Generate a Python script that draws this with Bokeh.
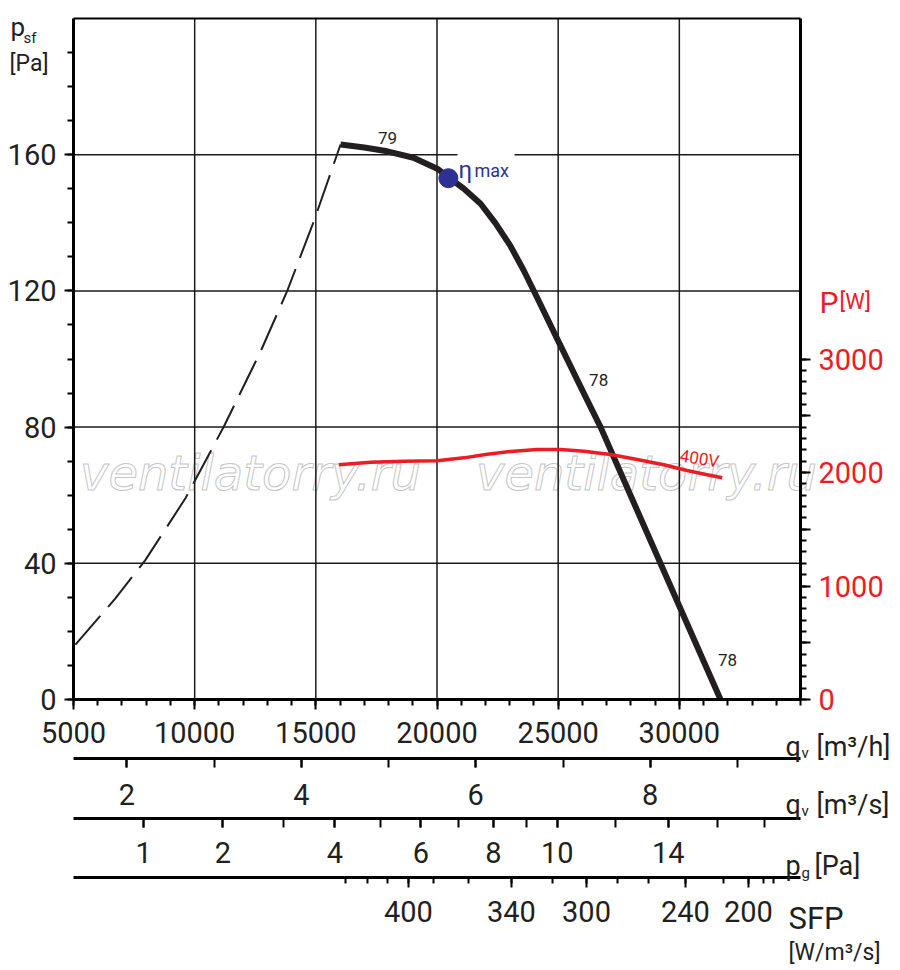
from bokeh.core.properties import value
from bokeh.embed import file_html
from bokeh.models import BoxAnnotation, ColumnDataSource, FixedTicker, Label, LinearAxis, Range1d
from bokeh.plotting import figure
from bokeh.resources import INLINE

# fan curve p_sf [Pa] over q_v [m3/h], solid part
curve_q = [16020, 17000, 17945, 19030, 20010, 20470, 21110, 21800, 22410, 23030, 23580,
           24135, 24960, 26060, 26750, 29220, 31700]
curve_p = [163, 162.1, 161, 159.1, 155.9, 153.4, 150, 145.6, 139.9, 133.2, 126,
           118, 105.9, 89.9, 80, 40, 0]

# unstable part (dashed)
stall_q = [5080, 6730, 7970, 9620, 11200, 12720, 13820, 14920, 16020]
stall_p = [16.1, 29.7, 41.0, 59.1, 80.1, 102.2, 120, 140.5, 163]

# input power P [W], 400V
power_q = [15950, 17260, 18630, 20010, 21110, 22070, 23170, 24130, 25100, 26060,
           27160, 28260, 29360, 30320, 31150, 31770]
power_w = [2068, 2091, 2100, 2103, 2129, 2161, 2188, 2203, 2203, 2188,
           2158, 2114, 2068, 2017, 1980, 1953]

# efficiency marks on the curve
eff_q = [17960, 26670, 31990]
eff_p = [165, 93.7, 11.5]
eff_txt = ["79", "78", "78"]

# best efficiency point
eta_q = [20470]
eta_p = [153.1]

# main scales
q_major = [5000, 10000, 15000, 20000, 25000, 30000]
q_minor = list(range(5000, 35001, 1000))
p_major = [0, 40, 80, 120, 160]
p_minor = list(range(0, 200, 10))
w_major = [0, 500, 1000, 1500, 2000, 2500, 3000]
w_minor = list(range(0, 3001, 100))
w_labels = [0, 1000, 2000, 3000]

# secondary scales under the chart
qs_ticks = [2, 3, 4, 5, 6, 7, 8, 9]          # q_v [m3/s]
qs_labels = [2, 4, 6, 8]
pg_ticks = [1, 2, 3, 4, 5, 6, 7, 8, 9, 10, 12, 14, 16, 18]   # p_g [Pa]
pg_labels = [1, 2, 4, 6, 8, 10, 14]
PG_Q1 = 7895                                  # m3/h where p_g = 1 Pa
sfp_ticks = [460, 440, 420, 400, 380, 360, 340, 320, 300, 280, 260, 240, 220, 200, 190, 180]
sfp_at_q = [16220, 17130, 17960, 18820, 19860, 21300, 23070, 24770, 26170, 27450,
            28730, 30250, 31820, 32850, 33470, 33890]
sfp_labels = [400, 340, 300, 240, 200]

INK = "#231f20"
RED = "#ed1c24"
BLUE = "#2e3192"
FONT = "Roboto"
TICK_FONT = "29px"

# page layout: where 5000..35000 m3/h and 0..200 Pa sit on the canvas
W, H = 900, 966
PX_Q0, PX_Q1 = 73, 800
PX_P0, PX_P1 = 699, 18
QX = 30000 / (PX_Q1 - PX_Q0)
PY = 200 / (PX_P0 - PX_P1)


def at(x, y):
    return 5000 + (x - PX_Q0) * QX, (PX_P0 - y) * PY


x_lo, y_hi = at(0, 0)
x_hi, y_lo = at(W, H)

p = figure(width=W, height=H, x_range=Range1d(x_lo, x_hi), y_range=Range1d(y_lo, y_hi),
           x_axis_type=None, y_axis_type=None, output_backend="svg", toolbar_location=None,
           min_border=0)
p.extra_y_ranges = {"power": Range1d(y_lo * 30, y_hi * 30)}
p.extra_x_ranges = {"qs": Range1d(x_lo / 3600, x_hi / 3600)}
p.outline_line_color = None
p.background_fill_color = "white"
p.border_fill_color = "white"


def axis(side, loc, bounds, ticker, tick_out, minor_out, standoff, color=INK, width=3, **kw):
    ax = LinearAxis(fixed_location=loc, bounds=bounds, ticker=ticker, **kw)
    ax.axis_line_width = width
    ax.axis_line_color = "black"
    ax.major_tick_line_width = 2
    ax.minor_tick_line_width = 2
    ax.major_tick_line_color = "black"
    ax.minor_tick_line_color = "black"
    ax.major_tick_in = 0
    ax.minor_tick_in = 0
    ax.major_tick_out = tick_out
    ax.minor_tick_out = minor_out
    ax.major_label_standoff = standoff
    ax.major_label_text_font = FONT
    ax.major_label_text_font_size = TICK_FONT
    ax.major_label_text_color = color
    p.add_layout(ax, side)
    return ax


# watermark
for cx in (250, 646):
    wx, wy = at(cx, 500)
    p.add_layout(Label(x=wx, y=wy, text="ventilatorry.ru", text_font="DejaVu Sans",
                       text_font_style="italic", text_font_size="48px", text_align="center",
                       text_color="white", text_outline_color="#c6c6c6", level="underlay"))

# grid
p.segment(x0=q_major[1:], y0=0, x1=q_major[1:], y1=200, line_color="#1a1a1a", line_width=1.5)
p.segment(x0=5000, y0=p_major[1:], x1=35000, y1=p_major[1:], line_color="#1a1a1a", line_width=1.5)

# frame axes
axis("left", 5000, (0, 200), FixedTicker(ticks=p_major, minor_ticks=p_minor), 9, 6, 8)
axis("below", 0, (5000, 35000), FixedTicker(ticks=q_major, minor_ticks=q_minor), 10, 6, 12)
axis("above", 200, (5000, 35000), FixedTicker(ticks=[]), 0, 0, 0, width=2,
     major_label_text_font_size="0px")
axis("right", 35000, (0, 6000), FixedTicker(ticks=w_major, minor_ticks=w_minor), 10, 6, 8, RED,
     y_range_name="power", major_label_overrides={v: "" for v in w_major if v not in w_labels})

# q_v [m3/s]
axis("below", at(0, 758)[1], (5000 / 3600, 35000 / 3600),
     FixedTicker(ticks=qs_labels, minor_ticks=qs_ticks), 9, 9, 16, x_range_name="qs")

# p_g [Pa]
pg_q = {v: round(PG_Q1 * v ** 0.5, 1) for v in pg_ticks}
axis("below", at(0, 818)[1], (5000, 35000),
     FixedTicker(ticks=[pg_q[v] for v in pg_labels], minor_ticks=list(pg_q.values())), 9, 9, 14,
     major_label_overrides={pg_q[v]: str(v) for v in pg_labels})

# SFP [W/m3/s]
sfp_q = dict(zip(sfp_ticks, sfp_at_q))
axis("below", at(0, 877)[1], (5000, 35000),
     FixedTicker(ticks=[sfp_q[v] for v in sfp_labels], minor_ticks=sfp_at_q), 10, 6, 13,
     major_label_overrides={sfp_q[v]: str(v) for v in sfp_labels})

p.line(stall_q, stall_p, line_width=2, line_dash="38 12", color=INK)
p.line(curve_q, curve_p, line_width=6, color=INK, line_join="round")
p.line(power_q, power_w, y_range_name="power", line_width=3.5, color=RED, line_join="round")
p.scatter(eta_q, eta_p, size=19, color=BLUE)
p.text(x="q", y="p", text="t", source=ColumnDataSource(dict(q=eff_q, p=eff_p, t=eff_txt)),
       text_font=value(FONT), text_font_size="17px", text_align="center",
       text_baseline="middle", text_color=INK)

# gap in the 160 grid line behind the eta label
gl, gt = at(457, 149)
gr, gb = at(514, 159)
p.add_layout(BoxAnnotation(left=gl, right=gr, top=gt, bottom=gb, fill_color="white",
                           fill_alpha=1, line_alpha=0))


def note(x, y, text, size, color=INK, **kw):
    nx, ny = at(x, y)
    p.add_layout(Label(x=nx, y=ny, text=text, text_font=FONT, text_font_size=f"{size}px",
                       text_color=color, text_align=kw.pop("align", "left"),
                       text_baseline=kw.pop("baseline", "alphabetic"), **kw))


note(458, 169, "η", 24, BLUE)
note(474, 170, "max", 18, BLUE)
note(699, 458, "400V", 17, RED, align="center", baseline="middle", angle=-0.16)

note(10, 26, "p", 26)
note(23, 37, "sf", 15)
note(9, 63, "[Pa]", 23)
note(819, 302, "P", 30, RED)
note(839, 301, "[W]", 22, RED)

note(785, 746, "q", 27)
note(801, 752, "v", 15)
note(816, 746, "[m³/h]", 27)
note(785, 804, "q", 27)
note(801, 810, "v", 15)
note(816, 804, "[m³/s]", 27)
note(785, 865, "p", 27)
note(801, 872, "g", 15)
note(814, 865, "[Pa]", 27)
note(788, 918, "SFP", 31)
note(788, 952, "[W/m³/s]", 23)

open("out.html", "w").write(file_html(p, INLINE))
